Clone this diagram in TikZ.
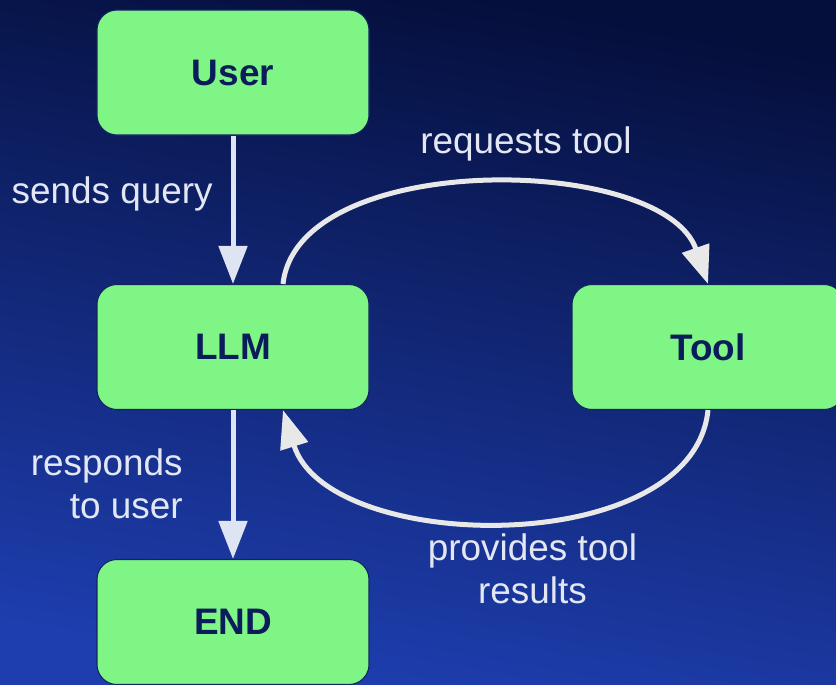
\documentclass[tikz,border=0pt]{standalone}
\usepackage{fontspec}
\setmainfont{Liberation Sans}
\usetikzlibrary{arrows.meta}

\definecolor{bgtop}{RGB}{5,15,60}
\definecolor{bgmid}{RGB}{14,34,118}
\definecolor{bgbot}{RGB}{30,62,175}
\definecolor{boxgreen}{RGB}{126,245,132}
\definecolor{edgenavy}{RGB}{18,36,96}
\definecolor{textnavy}{RGB}{10,28,90}
\definecolor{lbltext}{RGB}{226,231,243}
\definecolor{arrowlav}{RGB}{222,228,242}
\definecolor{arrowgrey}{RGB}{232,232,232}

\begin{document}
\begin{tikzpicture}[
	box/.style = {draw = edgenavy, line width = 0.6pt, fill = boxgreen, rounded corners = 0.4cm,
		minimum width = 5.44cm, minimum height = 2.5cm, text = textnavy,
		font = \fontsize{21}{25}\selectfont\bfseries},
	flow/.style = {line width = 0.1cm, -{Triangle[length = 0.76cm, width = 0.56cm]}},
	lbl/.style = {text = lbltext, inner sep = 0pt, font = \fontsize{21}{24.4}\selectfont}
	]
	\useasboundingbox (0,0) rectangle (16.72,-13.68);
	\shade[top color = bgtop, middle color = bgmid, bottom color = bgbot, shading angle = -10] (0,0) rectangle (16.72,-13.68);
	% states
	\node[box] (user) at (4.66,-1.45) {User};
	\node[box] (llm) at (4.66,-6.94) {LLM};
	\node[box] (tool) at (14.16,-6.94) {Tool};
	\node[box] (finish) at (4.66,-12.44) {END};
	% transitions
	\draw[flow, draw = arrowlav] (user) -- (llm);
	\node[lbl, anchor = base east] at (4.26,-4.06) {sends query};
	\draw[flow, draw = arrowgrey] ([xshift = 1cm]llm.north) .. controls +(0.3,2.7) and +(-0.9,2.6) .. (tool.north);
	\node[lbl, anchor = base] at (10.52,-3.06) {requests tool};
	\draw[flow, draw = arrowgrey] (tool.south) .. controls +(-0.3,-3) and +(0.9,-2.9) .. ([xshift = 1cm]llm.south);
	\node[lbl, anchor = base, align = center] at (10.65,-12.06) {provides tool\\results};
	\draw[flow, draw = arrowlav] (llm) -- (finish);
	\node[lbl, anchor = base east, align = right] at (3.66,-10.36) {responds\\to user};
\end{tikzpicture}
\end{document}
